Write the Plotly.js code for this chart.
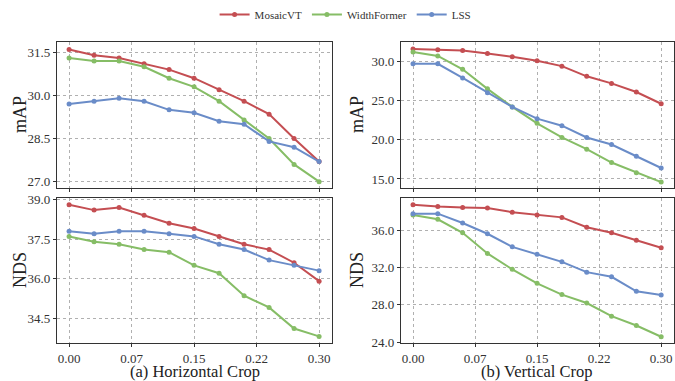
<!DOCTYPE html>
<html>
<head>
<meta charset="utf-8">
<script src="https://cdn.plot.ly/plotly-3.0.1.min.js"></script>
<style>html,body{margin:0;padding:0;background:#fff;}#chart{width:675px;height:381px;}</style>
</head>
<body>
<div id="chart"></div>
<script>
// Crop ratios (x axis)
const cropRatios = [0.00, 0.03, 0.06, 0.09, 0.12, 0.15, 0.18, 0.21, 0.24, 0.27, 0.30];
const xTickVals = [0.0, 0.075, 0.15, 0.225, 0.30];
const xTickText = ['0.00', '0.07', '0.15', '0.22', '0.30'];

const seriesNames = ['MosaicVT', 'WidthFormer', 'LSS'];
const seriesColors = ['#c44e52', '#86bd66', '#6a8cc8'];

// (a) Horizontal crop
const hMapMosaic = [31.6, 31.4, 31.3, 31.1, 30.9, 30.6, 30.2, 29.8, 29.35, 28.5, 27.7];
const hMapWidth  = [31.3, 31.2, 31.2, 31.0, 30.6, 30.3, 29.8, 29.15, 28.5, 27.6, 27.0];
const hMapLSS    = [29.7, 29.8, 29.9, 29.8, 29.5, 29.4, 29.1, 29.0, 28.4, 28.2, 27.7];
const hNdsMosaic = [38.8, 38.6, 38.7, 38.4, 38.1, 37.9, 37.6, 37.3, 37.1, 36.6, 35.9];
const hNdsWidth  = [37.6, 37.4, 37.3, 37.1, 37.0, 36.5, 36.2, 35.35, 34.9, 34.1, 33.8];
const hNdsLSS    = [37.8, 37.7, 37.8, 37.8, 37.7, 37.6, 37.3, 37.1, 36.7, 36.5, 36.3];

// (b) Vertical crop
const vMapMosaic = [31.6, 31.5, 31.4, 31.0, 30.6, 30.1, 29.4, 28.1, 27.2, 26.1, 24.6];
const vMapWidth  = [31.2, 30.7, 29.0, 26.5, 24.2, 22.1, 20.3, 18.8, 17.1, 15.8, 14.6];
const vMapLSS    = [29.7, 29.7, 27.9, 26.0, 24.2, 22.7, 21.8, 20.3, 19.4, 17.9, 16.4];
const vNdsMosaic = [38.7, 38.5, 38.4, 38.35, 37.9, 37.6, 37.35, 36.3, 35.7, 34.9, 34.1];
const vNdsWidth  = [37.6, 37.15, 35.7, 33.5, 31.8, 30.3, 29.1, 28.2, 26.8, 25.8, 24.6];
const vNdsLSS    = [37.75, 37.75, 36.75, 35.6, 34.2, 33.4, 32.6, 31.5, 31.0, 29.45, 29.05];

const hMapTicks = [27.0, 28.5, 30.0, 31.5];
const hNdsTicks = [34.5, 36.0, 37.5, 39.0];
const vMapTicks = [15.0, 20.0, 25.0, 30.0];
const vNdsTicks = [24.0, 28.0, 32.0, 36.0];

const panels = [
  {x: 'x',  y: 'y',  data: [hMapMosaic, hMapWidth, hMapLSS], legend: true},
  {x: 'x2', y: 'y2', data: [hNdsMosaic, hNdsWidth, hNdsLSS], legend: false},
  {x: 'x3', y: 'y3', data: [vMapMosaic, vMapWidth, vMapLSS], legend: false},
  {x: 'x4', y: 'y4', data: [vNdsMosaic, vNdsWidth, vNdsLSS], legend: false}
];

const traces = [];
panels.forEach(p => {
  p.data.forEach((vals, i) => {
    traces.push({
      type: 'scatter', mode: 'lines+markers',
      x: cropRatios, y: vals,
      xaxis: p.x, yaxis: p.y,
      name: seriesNames[i],
      showlegend: p.legend,
      line: {color: seriesColors[i], width: 2},
      marker: {color: seriesColors[i], size: 5}
    });
  });
});

const FONT = 'Liberation Serif, DejaVu Serif, serif';
const axisCommon = {
  showline: true, mirror: true, linecolor: '#333', linewidth: 1.2,
  showgrid: true, gridcolor: '#b0b0b0', griddash: 'dot', gridwidth: 1,
  zeroline: false,
  ticks: 'outside', ticklen: 3, tickcolor: '#333', tickwidth: 1,
  tickfont: {family: FONT, size: 13, color: '#333'}
};
function xax(domain, anchor, labels) {
  return Object.assign({}, axisCommon, {
    domain: domain, anchor: anchor, range: [-0.0145, 0.3155],
    tickvals: xTickVals, ticktext: xTickText, showticklabels: labels
  });
}
function yax(domain, anchor, range, ticks) {
  return Object.assign({}, axisCommon, {
    domain: domain, anchor: anchor, range: range,
    tickvals: ticks, tickformat: '.1f'
  });
}
const leftDom = [57/675, 332/675];
const rightDom = [401/675, 674/675];
const topDom = [1 - 188/381, 1 - 42/381];
const botDom = [1 - 343/381, 1 - 198/381];

function ann(text, px, py, size, angle) {
  return {text: text, xref: 'paper', yref: 'paper', x: px/675, y: 1 - py/381,
          xanchor: 'center', yanchor: 'middle', textangle: angle || 0, showarrow: false,
          borderpad: 0, font: {family: FONT, size: size, color: '#222'}};
}

const layout = {
  width: 675, height: 381,
  margin: {l: 0, r: 0, t: 0, b: 0},
  paper_bgcolor: '#fff', plot_bgcolor: '#fff',
  font: {family: FONT, color: '#222'},
  showlegend: true,
  legend: {orientation: 'h', x: 0.512, xanchor: 'center', y: 1.0, yanchor: 'top',
           font: {family: FONT, size: 11, color: '#333'}, itemwidth: 30},
  xaxis: xax(leftDom, 'y', false),
  yaxis: yax(topDom, 'x', [26.78, 31.86], hMapTicks),
  xaxis2: xax(leftDom, 'y2', true),
  yaxis2: yax(botDom, 'x2', [33.55, 39.06], hNdsTicks),
  xaxis3: xax(rightDom, 'y3', false),
  yaxis3: yax(topDom, 'x3', [13.85, 32.48], vMapTicks),
  xaxis4: xax(rightDom, 'y4', true),
  yaxis4: yax(botDom, 'x4', [23.93, 39.42], vNdsTicks),
  annotations: [
    ann('mAP', 20, 115, 18, -90),
    ann('NDS', 20, 270, 18, -90),
    ann('mAP', 357, 115, 18, -90),
    ann('NDS', 357, 270, 18, -90),
    ann('(a) Horizontal Crop', 195, 371.5, 16.5),
    ann('(b) Vertical Crop', 537, 371.5, 16.5)
  ]
};

Plotly.newPlot('chart', traces, layout, {staticPlot: true, displayModeBar: false});
</script>
</body>
</html>
